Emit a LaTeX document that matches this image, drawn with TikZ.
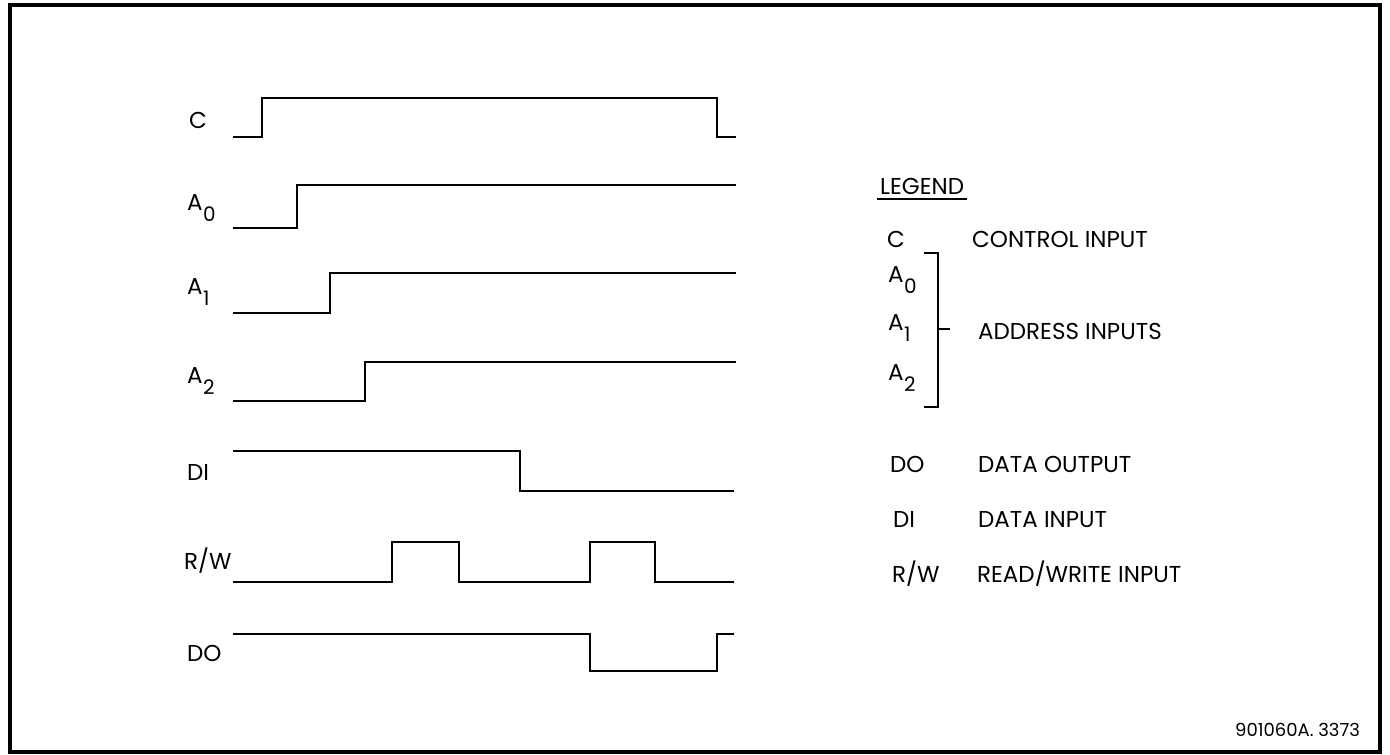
\documentclass[tikz,border=0pt]{standalone}
\usepackage{fontspec}
\setmainfont{Poppins}
\newcommand\subA[1]{A\kern0.5pt\lower11pt\hbox{\fontsize{20}{20}\selectfont #1}}
\tikzset{
  wave/.style={line width=2.8pt, line join=miter, line cap=rect},
  frame/.style={line width=3.2pt},
  lbl/.style={anchor=base west, inner sep=0pt, font=\fontsize{23}{23}\selectfont},
  codetxt/.style={anchor=base west, inner sep=0pt, font=\fontsize{18}{18}\selectfont},
}
\begin{document}
\begin{tikzpicture}[x=1pt,y=-1pt]
\useasboundingbox (0,0) rectangle (1390,755);
\draw[frame] (10,5) rectangle (1380,752);

% signal labels
\node[lbl] (lC)  at (189,128) {C};
\node[lbl] (lA0) at (187,210) {\subA{0}};
\node[lbl] (lA1) at (187,294) {\subA{1}};
\node[lbl] (lA2) at (187,383) {\subA{2}};
\node[lbl] (lDI) at (187,480) {DI};
\node[lbl] (lRW) at (184,569) {R/W};
\node[lbl] (lDO) at (187,661) {DO};

% waveforms
\draw[wave] (234,137) -- (262,137) -- (262,98) -- (717,98) -- (717,137) -- (735,137);
\draw[wave] (234,228) -- (297,228) -- (297,185) -- (735,185);
\draw[wave] (234,313) -- (330,313) -- (330,273) -- (735,273);
\draw[wave] (234,401) -- (365,401) -- (365,362) -- (735,362);
\draw[wave] (234,451) -- (520,451) -- (520,491) -- (733,491);
\draw[wave] (234,582) -- (392,582) -- (392,542) -- (459,542) -- (459,582)
  -- (590,582) -- (590,542) -- (655,542) -- (655,582) -- (733,582);
\draw[wave] (234,634) -- (590,634) -- (590,671) -- (717,671) -- (717,634) -- (733,634);

% legend
\node[lbl] (leg) at (880,194) {LEGEND};
\draw[line width=1.6pt] ([shift={(-3,5)}]leg.base west) -- ([shift={(3,5)}]leg.base east);
\node[lbl] (gC)  at (887,247) {C};
\node[lbl] (tC)  at (972,247) {CONTROL INPUT};
\node[lbl] (gA0) at (888,282) {\subA{0}};
\node[lbl] (gA1) at (888,330) {\subA{1}};
\node[lbl] (gA2) at (888,380) {\subA{2}};
\node[lbl] (tA)  at (978,339) {ADDRESS INPUTS};
\draw[line width=1.8pt] (924,253) -- (938,253) -- (938,407) -- (924,407);
\draw[line width=1.8pt] (938,329) -- (950,329);
\node[lbl] (gDO) at (890,472) {DO};
\node[lbl] (tDO) at (978,472) {DATA OUTPUT};
\node[lbl] (gDI) at (893,527) {DI};
\node[lbl] (tDI) at (978,527) {DATA INPUT};
\node[lbl] (gRW) at (892,582) {R/W};
\node[lbl] (tRW) at (977,582) {READ/WRITE INPUT};

\node[codetxt] (code) at (1235,736) {901060A. 3373};
\end{tikzpicture}
\end{document}
